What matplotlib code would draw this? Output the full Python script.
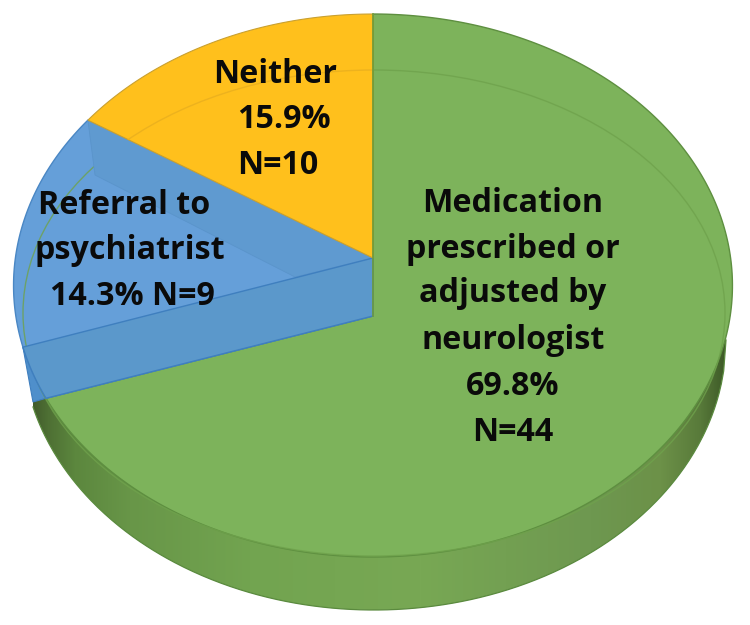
import numpy as np
import matplotlib
matplotlib.use('Agg')
import matplotlib.pyplot as plt
from matplotlib.patches import Polygon, Ellipse

# slices, counter-clockwise from 12 o'clock
labels = ['Neither', 'Referral to\npsychiatrist', 'Medication\nprescribed or\nadjusted by\nneurologist']
percents = [15.9, 14.3, 69.8]
counts = [10, 9, 44]

colors = ['#FFC01C', '#659FD9', '#7DB35B']

# perspective of the top face, in pixels
CX, CY = 373, 258
A_X, A_Y, K = 357.6, 268.7, 0.1013
DROP = 58
FRONT_EXTRA = 11


def rim(frac_start, frac_end, n=120):
    ang = 2 * np.pi * np.linspace(frac_start, frac_end, n)
    x, y = -np.sin(ang), np.cos(ang)
    w = 1 + K * y
    return np.column_stack((CX + A_X * x / w, CY - A_Y * y / w))


def wall_color(x):
    stops = [33, 48, 75, 130, 250, 420, 590, 660, 700, 726]
    r = [66, 78, 92, 104, 114, 120, 110, 108, 88, 60]
    g = [92, 112, 135, 150, 164, 168, 152, 145, 122, 88]
    b = [44, 52, 62, 72, 80, 84, 80, 72, 58, 38]
    return np.column_stack((np.interp(x, stops, r), np.interp(x, stops, g), np.interp(x, stops, b))) / 255


def wall_bottom(x):
    return 340 + 270 * np.sqrt(np.clip(1 - ((x - 374) / 352) ** 2, 0, 1))


fig = plt.figure(figsize=(7.5, 6.25), dpi=100)
ax = fig.add_axes([0, 0, 1, 1])

f_yellow = percents[0] / 100
f_blue = f_yellow + percents[1] / 100
f_front = f_blue + FRONT_EXTRA / 360

# side wall of the pie, a gradient clipped to the outline
sil_x = np.linspace(33, 726, 300)
outline = np.vstack((np.column_stack((sil_x, wall_bottom(sil_x))), [[726, 340], [33, 340]]))
grad = ax.imshow(wall_color(np.arange(33, 726))[np.newaxis, :, :], extent=(33, 726, 625, 340), aspect='auto', zorder=1)
grad.set_clip_path(Polygon(outline, transform=ax.transData))
ax.plot(sil_x, wall_bottom(sil_x), color='#5A8A3E', lw=0.9, zorder=2)

ax.set_xlim(0, 750)
ax.set_ylim(625, 0)
ax.axis('off')

# green top face
green = np.vstack((rim(f_front, 1.0, 300), [[CX, CY + DROP]]))
ax.add_patch(Polygon(green, closed=True, fc=colors[2], ec='#5E8F40', lw=1.0, zorder=3))

# blue slice with its see-through walls
p_yellow = rim(f_yellow, f_yellow, 1)[0]
p_blue = rim(f_blue, f_blue, 1)[0]
p_front = rim(f_front, f_front, 1)[0]
ax.add_patch(Polygon([p_blue, [33, 402], p_front], closed=True, fc='#4F8FCB', ec='#3F7FBF', lw=0.8, zorder=3))
blue = np.vstack((rim(f_yellow, f_front), [[CX, CY + DROP]], [[CX, CY]]))
ax.add_patch(Polygon(blue, closed=True, fc=colors[1], ec='#4A87C4', lw=1.0, zorder=4))
inner = np.array([p_yellow, [CX, CY], [295, 277], [95, 175]])
ax.add_patch(Polygon(inner, closed=True, fc='#5F9AD0', ec='#5A94CB', lw=0.6, zorder=5))
band = np.vstack(([[CX, CY]], rim(f_blue, f_front, 30), [[CX, CY + DROP]]))
ax.add_patch(Polygon(band, closed=True, fc='#5B98CB', ec='#3F7FBF', lw=1.0, zorder=5))

# yellow slice
yellow = np.vstack(([[CX, CY]], rim(0.0, f_yellow)))
ax.add_patch(Polygon(yellow, closed=True, fc=colors[0], ec='#C9A030', lw=0.8, zorder=6))

# faint inner circle
ax.add_patch(Ellipse((374, 313), 702, 486, fill=False, ec='#6FA24C', lw=1.0, zorder=4.5, alpha=0.8))
clip_y = Polygon(yellow, transform=ax.transData)
ax.add_patch(Ellipse((374, 313), 702, 486, fill=False, ec='#EDB21E', lw=1.0, zorder=7)).set_clip_path(clip_y)
ax.plot([CX, CX], [14, CY + DROP], color='#6E9B3A', lw=1.2, zorder=8)

font = dict(family='Open Sans', fontweight='bold', color='#0A0A0A', ha='center', va='baseline', fontsize=23.2, zorder=10)
neither_lines = [labels[0], f'{percents[0]}%', f'N={counts[0]}']
for text, x, y in zip(neither_lines, [275, 284, 278], [83, 128, 174]):
    ax.text(x, y, text, **font)
referral_lines = labels[1].split('\n') + [f'{percents[1]}% N={counts[1]}']
for text, x, y in zip(referral_lines, [124, 130, 132], [214, 259, 305]):
    ax.text(x, y, text, **font)
med_lines = labels[2].split('\n') + [f'{percents[2]}%', f'N={counts[2]}']
for text, y in zip(med_lines, [212, 258, 302, 349, 395, 441]):
    ax.text(513, y, text, **font)

plt.savefig('out.png', dpi=100)
plt.close()
